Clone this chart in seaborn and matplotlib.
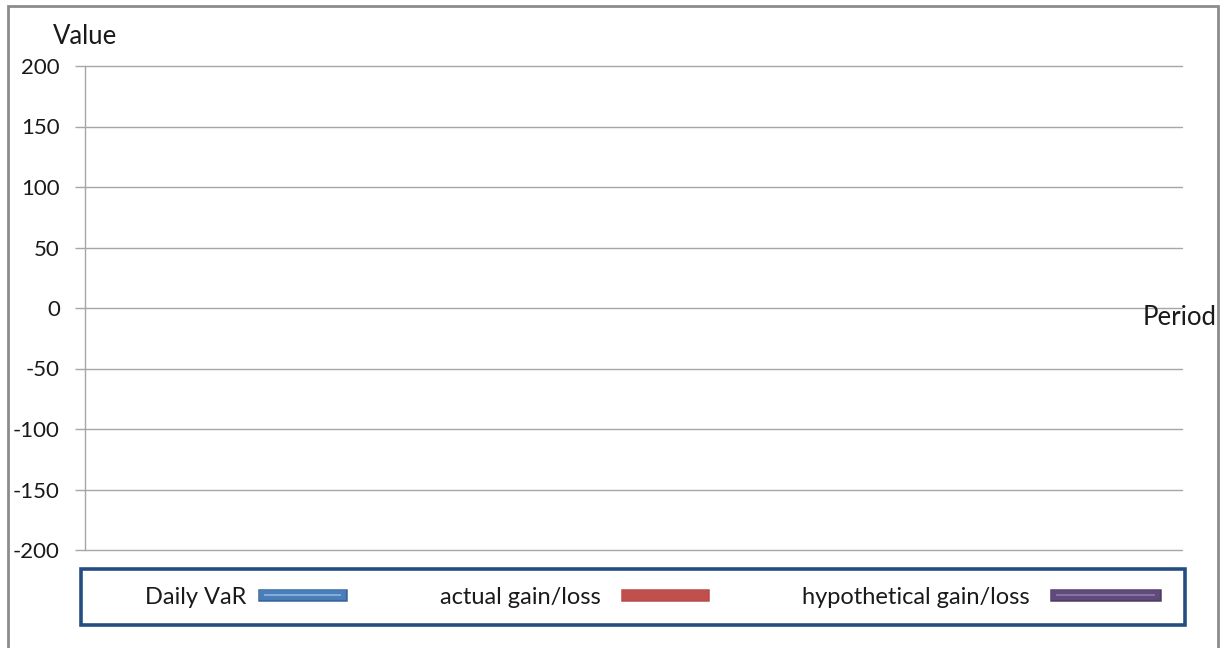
import matplotlib
matplotlib.use("Agg")
import matplotlib.pyplot as plt
import matplotlib.patheffects as pe
from matplotlib.patches import Rectangle
import seaborn as sns

# Series shown in the legend (no observations recorded yet)
series_names = ["Daily VaR", "actual gain/loss", "hypothetical gain/loss"]
periods = []
daily_var = []
actual_pl = []
hypothetical_pl = []
y_ticks = [200, 150, 100, 50, 0, -50, -100, -150, -200]

sns.set_style("white")
plt.rcParams["font.family"] = ["Lato", "DejaVu Sans"]
plt.rcParams["axes.unicode_minus"] = False

W, H = 1226, 648
fig = plt.figure(figsize=(W / 100, H / 100), dpi=100)

def fx(px):
    return px / W

def fy(py):
    return 1 - py / H

ax = fig.add_axes([fx(85), fy(550), fx(1182) - fx(85), fy(66) - fy(550)])

styles = [
    dict(main="#4A7EBB", edge="#3A649A", light="#8DB0DC"),
    dict(main="#C0504D", edge="#B94A47", light="#C0504D"),
    dict(main="#604A7B", edge="#4F3C67", light="#8C76A8"),
]
handles = []
for name, vals, st in zip(series_names, [daily_var, actual_pl, hypothetical_pl], styles):
    (ln,) = ax.plot(periods, vals, color=st["main"], lw=7, solid_capstyle="projecting", label=name)
    ln.set_path_effects([
        pe.Stroke(linewidth=9, foreground=st["edge"], capstyle="projecting"),
        pe.Stroke(linewidth=7, foreground=st["main"], capstyle="projecting"),
        pe.Stroke(linewidth=1.3, foreground=st["light"], capstyle="butt"),
    ])
    handles.append(ln)

ax.set_ylim(min(y_ticks), max(y_ticks))
ax.set_xlim(0, 1)
ax.set_yticks(y_ticks)
ax.set_xticks([])
ax.grid(axis="y", color="#A6A6A6", lw=1.0)
for gl in ax.get_ygridlines():
    gl.set_clip_on(False)
ax.tick_params(axis="y", length=7.2, width=1.0, color="#A6A6A6", pad=10.8,
               labelsize=16, labelcolor="#1A1A1A", left=True)
for side in ["top", "right", "bottom"]:
    ax.spines[side].set_visible(False)
ax.spines["left"].set_color("#A6A6A6")
ax.spines["left"].set_linewidth(1.0)

fig.text(fx(85), fy(36), "Value", ha="center", va="center", fontsize=18.5, color="#1A1A1A")
fig.text(fx(1143), fy(317), "Period", ha="left", va="center", fontsize=18.5, color="#1A1A1A")

# One legend entry per series, label first and swatch after it
entry_x = [145, 440, 802]
entry_len = [3.25, 3.25, 4.2]
entry_pad = [0.75, 1.1, 1.1]
for h, name, x, hl, tp in zip(handles, series_names, entry_x, entry_len, entry_pad):
    leg = fig.legend([h], [name], loc="center left",
                     bbox_to_anchor=(fx(x), fy(597)),
                     frameon=False, markerfirst=False,
                     borderaxespad=0, borderpad=0, handlelength=hl,
                     handletextpad=tp, fontsize=17)
    for t in leg.get_texts():
        t.set_color("#1A1A1A")

# Legend frame
fig.patches.append(Rectangle((fx(81), fy(625)), fx(1185) - fx(81), fy(569) - fy(625),
                             transform=fig.transFigure, fill=False,
                             edgecolor="#254E80", lw=2.6, zorder=5))
# Outer chart border
fig.patches.append(Rectangle((fx(8), fy(660)), fx(1218) - fx(8), fy(6) - fy(660),
                             transform=fig.transFigure, fill=False,
                             edgecolor="#8C8C8C", lw=2.0, zorder=5))

fig.savefig("out.png", dpi=100)
